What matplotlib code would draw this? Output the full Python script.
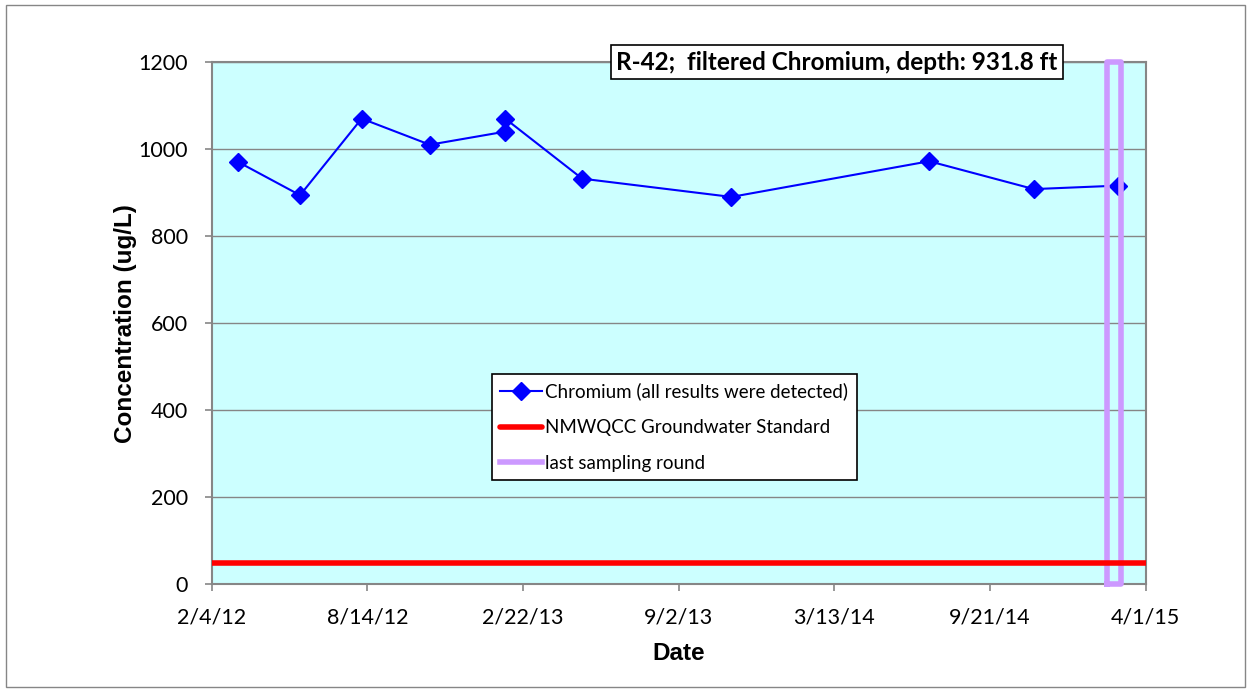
import datetime as dt

import matplotlib
matplotlib.use("Agg")
import matplotlib.dates as mdates
import matplotlib.pyplot as plt
from matplotlib.patches import Rectangle
from matplotlib.ticker import FuncFormatter

# sample dates and chromium results (ug/L)
dates = [dt.date(2012, 3, 8), dt.date(2012, 5, 23), dt.date(2012, 8, 7),
         dt.date(2012, 10, 30), dt.date(2013, 1, 31), dt.date(2013, 1, 31),
         dt.date(2013, 5, 6), dt.date(2013, 11, 6), dt.date(2014, 7, 8),
         dt.date(2014, 11, 14), dt.date(2015, 2, 26)]
chromium = [970, 894, 1070, 1010, 1040, 1070, 932, 890, 972, 908, 916]

# groundwater standard
std_dates = [dt.date(2012, 2, 4), dt.date(2015, 4, 1)]
std_values = [50, 50]

# last sampling round box
box_dates = [dt.date(2015, 2, 12), dt.date(2015, 2, 12), dt.date(2015, 3, 2),
             dt.date(2015, 3, 2), dt.date(2015, 2, 12)]
box_values = [0, 1200, 1200, 0, 0]

x_start = dt.date(2012, 2, 4)
x_end = dt.date(2015, 4, 1)
tick_step = 192  # days

fig = plt.figure(figsize=(12.51, 6.92), dpi=100)
ax = fig.add_axes([0.1692, 0.1556, 0.9158 - 0.1692, 0.9104 - 0.1556])
ax.set_facecolor("#CCFFFF")

ax.plot(dates, chromium, color="#0000FF", lw=1.5, marker="D", ms=8.7,
        label="Chromium (all results were detected)", zorder=3)
ax.plot(std_dates, std_values, color="#FF0000", lw=4, solid_capstyle="round",
        label="NMWQCC Groundwater Standard", zorder=5)
ax.plot(box_dates, box_values, color="#CC99FF", lw=4,
        label="last sampling round", zorder=4, clip_on=False)

x0 = mdates.date2num(x_start)
x1 = mdates.date2num(x_end)
ax.set_xlim(x0, x1)
ax.set_ylim(0, 1200)
ax.set_xticks([x0 + i * tick_step for i in range(7)])
ax.set_yticks(range(0, 1201, 200))


def fmt_date(v, pos):
    d = mdates.num2date(v)
    return f"{d.month}/{d.day}/{d.strftime('%y')}"


ax.xaxis.set_major_formatter(FuncFormatter(fmt_date))

for s in ax.spines.values():
    s.set_color("#868686")
    s.set_linewidth(1.5)
ax.grid(axis="y", color="#868686", lw=1.0)
ax.set_axisbelow(True)
ax.tick_params(axis="both", direction="out", length=5, width=1.2,
               color="#868686", labelsize=15.5, labelcolor="black")
ax.tick_params(axis="x", pad=12)
ax.tick_params(axis="y", pad=12)
for lab in ax.get_xticklabels() + ax.get_yticklabels():
    lab.set_family("Lato")

ax.set_xlabel("Date", fontsize=17.5, fontweight="bold", family="Liberation Sans",
              labelpad=10)
ax.set_ylabel("Concentration (ug/L)", fontsize=17.5, fontweight="bold",
              family="Liberation Sans", labelpad=1)

ax.text(0.6695, 1.0, "R-42;  filtered Chromium, depth: 931.8 ft",
        transform=ax.transAxes, ha="center", va="center", fontsize=17.5,
        fontweight="bold", family="Lato", zorder=10,
        bbox=dict(boxstyle="square,pad=0.22", fc="white", ec="black", lw=1.2))

leg = ax.legend(loc="upper left", bbox_to_anchor=(0.3001, 0.4026),
                frameon=True, fancybox=False, edgecolor="black",
                framealpha=1, handlelength=2.2, handletextpad=0.2,
                labelspacing=1.0, borderpad=0.45, borderaxespad=0,
                prop={"family": "Lato", "size": 13.5})
leg.get_frame().set_linewidth(1.2)
leg.set_zorder(20)

# chart area border
fig.add_artist(Rectangle((6 / 1251, 5 / 692), 1239 / 1251, 682 / 692,
                         transform=fig.transFigure, fill=False,
                         ec="#868686", lw=1))

fig.savefig("out.png", dpi=100)
